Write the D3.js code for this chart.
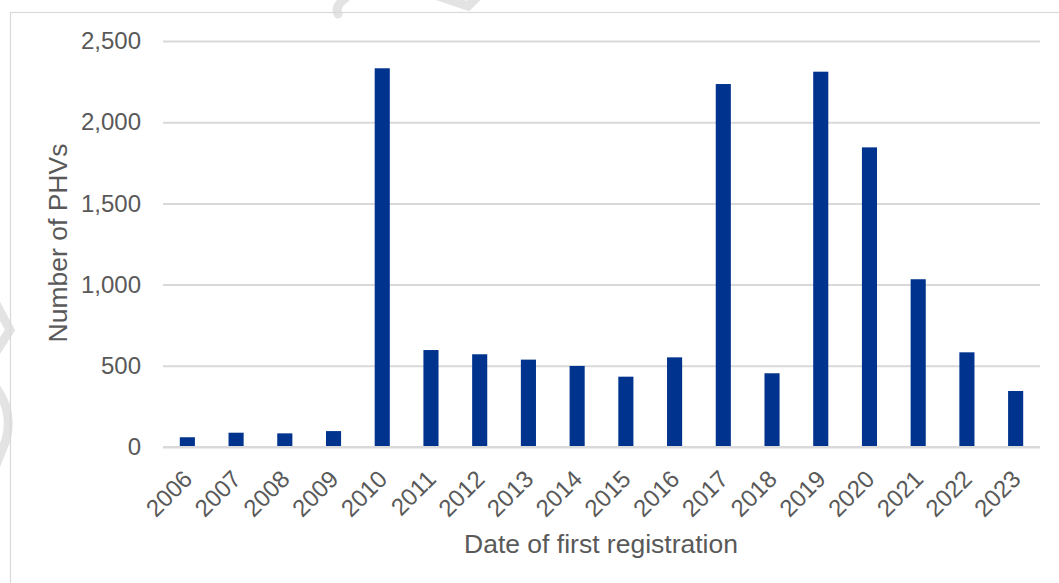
<!DOCTYPE html>
<html><head><meta charset="utf-8">
<script src="https://cdn.jsdelivr.net/npm/d3@7"></script>
<style>html,body{margin:0;padding:0;background:#fff;overflow:hidden}</style>
</head><body>
<script>
const years = ["2006","2007","2008","2009","2010","2011","2012","2013","2014","2015","2016","2017","2018","2019","2020","2021","2022","2023"];
const phvCounts = [60,88,84,98,2332,597,571,538,499,433,552,2235,454,2311,1845,1033,583,345];
const yTicks = [0,500,1000,1500,2000,2500];
const yTitle = "Number of PHVs";
const xTitle = "Date of first registration";

const W = 1059, H = 583;
const svg = d3.select("body").append("svg").attr("width", W).attr("height", H)
  .style("font-family", "'Liberation Sans', Arial, sans-serif");

// faint watermark strokes
const wm = svg.append("g").attr("fill","none").attr("stroke","#e3e3e3").attr("stroke-width",9).attr("stroke-linecap","round");
wm.append("path").attr("d","M-6,300 L10,330 L-6,355");
wm.append("path").attr("d","M-6,385 Q14,410 6,440 L-6,470");
wm.append("path").attr("d","M348,-4 Q334,6 338,14");
wm.append("path").attr("d","M432,-6 L468,6 L480,-6");

// outer border
svg.append("rect").attr("x",10.5).attr("y",12.5).attr("width",W+20).attr("height",H+20)
  .attr("fill","none").attr("stroke","#d9d9d9").attr("stroke-width",1.2);

const m = {left:163, right:1040, top:41, bottom:447};
const x = d3.scaleBand().domain(years).range([m.left, m.right]).paddingInner(0.69).paddingOuter(0.345);
const y = d3.scaleLinear().domain([0,2500]).range([m.bottom, m.top]);

// gridlines
const gy = d3.axisLeft(y).tickValues(yTicks).tickSize(-(m.right-m.left)).tickFormat("");
svg.append("g").attr("transform",`translate(${m.left},0)`).call(gy)
  .call(g=>g.select(".domain").remove())
  .call(g=>g.selectAll("line").attr("stroke","#d9d9d9").attr("stroke-width",2));

// y tick labels
const ya = d3.axisLeft(y).tickValues(yTicks).tickSize(0).tickPadding(22).tickFormat(d3.format(","));
svg.append("g").attr("transform",`translate(${m.left},0)`).call(ya)
  .call(g=>g.select(".domain").remove())
  .call(g=>g.selectAll("text").attr("fill","#595959").style("font-size","24px").style("font-family","'Liberation Sans', Arial, sans-serif"));

// bars
svg.append("g").selectAll("rect").data(phvCounts).join("rect")
  .attr("x",(d,i)=>x(years[i]))
  .attr("width",x.bandwidth())
  .attr("y",d=>y(d))
  .attr("height",d=>y(0)-y(d))
  .attr("fill","#00338D");

// x axis
const xa = d3.axisBottom(x).tickSize(0).tickPadding(0);
svg.append("g").attr("transform",`translate(0,${m.bottom})`).call(xa)
  .call(g=>g.select(".domain").remove())
  .call(g=>g.selectAll("text")
     .attr("fill","#595959").style("font-size","24px").style("font-family","'Liberation Sans', Arial, sans-serif")
     .attr("text-anchor","end").attr("dy",null).attr("y",0)
     .attr("transform","translate(-6,21) rotate(-45)")
     .attr("dominant-baseline","hanging"));

// baseline
svg.append("line").attr("x1",m.left).attr("x2",m.right).attr("y1",y(0)).attr("y2",y(0))
  .attr("stroke","#d9d9d9").attr("stroke-width",2);

// titles
svg.append("text").attr("x",(m.left+m.right)/2 - 0.5).attr("y",553).attr("text-anchor","middle")
  .attr("fill","#595959").style("font-size","26.5px").text(xTitle);
svg.append("text").attr("transform","translate(67,243) rotate(-90)").attr("text-anchor","middle")
  .attr("fill","#595959").style("font-size","26.5px").text(yTitle);
</script>
</body></html>
